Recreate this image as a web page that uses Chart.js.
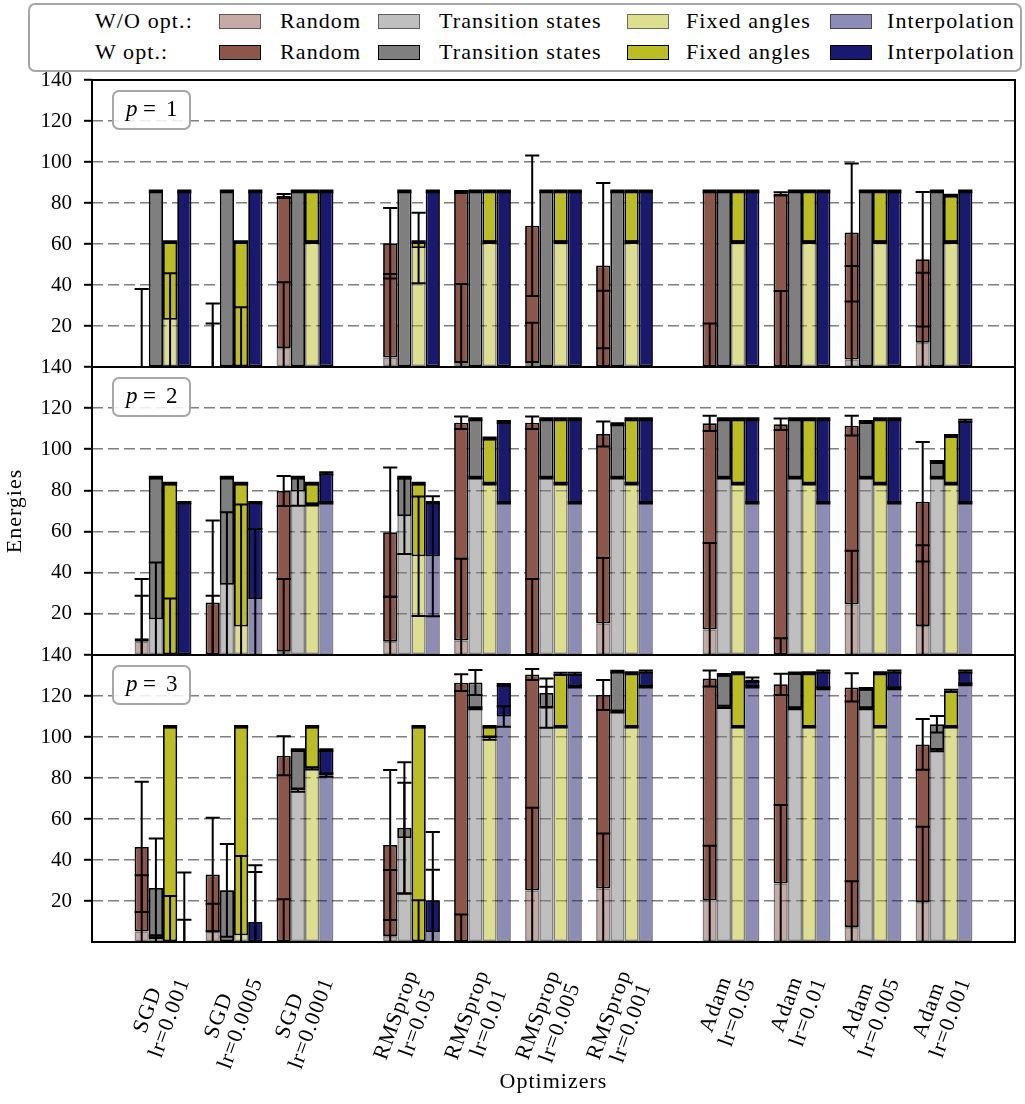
<!DOCTYPE html>
<html>
<head>
<meta charset="utf-8">
<script src="https://cdn.jsdelivr.net/npm/chart.js@4.4.1/dist/chart.umd.min.js"></script>
<style>
  html, body { margin: 0; padding: 0; background: #fff; }
  #fig { position: relative; width: 1025px; height: 1104px; overflow: hidden;
         font-family: "Liberation Serif", serif; color: #000; }
  #fig canvas { position: absolute; left: 0; top: 0; }
  #legend { position: absolute; left: 28px; top: 3px; width: 990px; height: 65px;
            border: 2px solid #a6a6a6; border-radius: 7px; background: #fff; z-index: 5; }
  .lg { position: absolute; font-size: 22px; line-height: 22px; letter-spacing: 1.1px;
        white-space: nowrap; z-index: 6; }
  .sw { position: absolute; width: 42px; height: 15px; box-sizing: border-box; z-index: 6; }
</style>
</head>
<body>
<div id="fig">
  <canvas id="c1" width="1025" height="1104"></canvas>
  <canvas id="c2" width="1025" height="1104"></canvas>
  <canvas id="c3" width="1025" height="1104"></canvas>
  <div id="legend"></div>
</div>
<script>
// ---- optimizer groups along the x axis ----
const groupLabels = [
  ["SGD", "lr=0.001"], ["SGD", "lr=0.0005"], ["SGD", "lr=0.0001"],
  ["RMSprop", "lr=0.05"], ["RMSprop", "lr=0.01"], ["RMSprop", "lr=0.005"], ["RMSprop", "lr=0.001"],
  ["Adam", "lr=0.05"], ["Adam", "lr=0.01"], ["Adam", "lr=0.005"], ["Adam", "lr=0.001"]
];
const groupPositions = [0, 1, 2, 3.5, 4.5, 5.5, 6.5, 8, 9, 10, 11];
const methods = ["Random", "Transition states", "Fixed angles", "Interpolation"];
const yTickValues = [20, 40, 60, 80, 100, 120, 140];
const panelNames = ["1", "2", "3"];

// ---- p = 1 : energies without (WO) / with (W) optimization, and their spreads ----
const p1RandomWO    = [0, 0, 9.3, 4.6, 2.0, 2.0, 0, 0, 0, 3.6, 11.8];
const p1RandomWOErr = [0, 21.2, 32.0, 40.8, 38.5, 19.6, 37.2, 21.2, 37.1, 45.7, 34.2];
const p1RandomW     = [0, 0, 83.4, 60.4, 85.4, 68.9, 49.5, 85.7, 84.5, 65.6, 52.6];
const p1RandomWErr  = [38.0, 31.0, 1.0, 17.2, 0.5, 34.3, 40.3, 0.4, 0.8, 33.7, 32.8];

const p1TransWO     = [0, 0, 0, 0, 0, 0, 0, 0, 0, 0, 0];
const p1TransWOErr  = [0, 0, 0, 0, 0, 0, 0, 0, 0, 0, 0];
const p1TransW      = [85.7, 85.7, 85.7, 85.7, 85.7, 85.7, 85.7, 85.7, 85.7, 85.7, 85.7];
const p1TransWErr   = [0.4, 0.4, 0.4, 0.4, 0.4, 0.4, 0.4, 0.4, 0.4, 0.4, 0.4];

const p1FixedWO     = [60.9, 60.9, 60.9, 60.9, 60.9, 60.9, 60.9, 60.9, 60.9, 60.9, 60.9];
const p1FixedWOErr  = [0.4, 0.4, 0.4, 0.4, 0.4, 0.4, 0.4, 0.4, 0.4, 0.4, 0.4];
const p1FixedW      = [23.0, 0, 85.7, 58.0, 85.7, 85.7, 85.7, 85.7, 85.7, 85.7, 83.6];
const p1FixedWErr   = [22.7, 29.1, 0.4, 17.2, 0.4, 0.4, 0.4, 0.4, 0.4, 0.4, 0.4];

const p1InterpWO    = [0, 0, 0, 0, 0, 0, 0, 0, 0, 0, 0];
const p1InterpWOErr = [0, 0, 0, 0, 0, 0, 0, 0, 0, 0, 0];
const p1InterpW     = [85.7, 85.7, 85.7, 85.7, 85.7, 85.7, 85.7, 85.7, 85.7, 85.7, 85.7];
const p1InterpWErr  = [0.4, 0.4, 0.4, 0.4, 0.4, 0.4, 0.4, 0.4, 0.4, 0.4, 0.4];

// ---- p = 2 ----
const p2RandomWO    = [6.5, 0, 1.6, 6.5, 7.0, 0, 15.4, 12.5, 0, 24.7, 14.1];
const p2RandomWOErr = [22.3, 28.8, 35.3, 21.8, 39.8, 36.9, 31.8, 42.0, 8.1, 26.0, 39.2];
const p2RandomW     = [8.1, 25.5, 79.7, 59.7, 112.9, 112.9, 107.4, 112.6, 112.2, 111.5, 74.5];
const p2RandomWErr  = [28.8, 39.9, 7.3, 31.4, 3.0, 3.0, 6.1, 3.7, 2.8, 4.8, 29.0];

const p2TransWO     = [86.2, 86.2, 86.2, 86.2, 86.2, 86.2, 86.2, 86.2, 86.2, 86.2, 86.2];
const p2TransWOErr  = [0.4, 0.4, 0.4, 0.4, 0.4, 0.4, 0.4, 0.4, 0.4, 0.4, 0.4];
const p2TransW      = [17.4, 34.1, 79.5, 67.5, 114.6, 114.6, 112.2, 114.6, 114.6, 113.3, 93.8];
const p2TransWErr   = [27.6, 35.3, 7.0, 18.4, 0.5, 0.5, 0.5, 0.5, 0.5, 0.5, 0.5];

const p2FixedWO     = [83.3, 83.3, 83.3, 83.3, 83.3, 83.3, 83.3, 83.3, 83.3, 83.3, 83.3];
const p2FixedWOErr  = [0.4, 0.4, 0.4, 0.4, 0.4, 0.4, 0.4, 0.4, 0.4, 0.4, 0.4];
const p2FixedW      = [0, 13.8, 73.2, 48.0, 105.2, 114.6, 114.6, 114.6, 114.6, 114.6, 106.5];
const p2FixedWErr   = [27.5, 59.4, 0.5, 29.0, 0.5, 0.5, 0.5, 0.5, 0.5, 0.5, 0.5];

const p2InterpWO    = [74.0, 74.0, 74.0, 74.0, 74.0, 74.0, 74.0, 74.0, 74.0, 74.0, 74.0];
const p2InterpWOErr = [0.4, 0.4, 0.4, 0.4, 0.4, 0.4, 0.4, 0.4, 0.4, 0.4, 0.4];
const p2InterpW     = [0, 27.2, 88.3, 48.0, 113.3, 114.6, 114.6, 114.6, 114.6, 114.6, 113.8];
const p2InterpWErr  = [0, 34.1, 0.5, 29.2, 0.5, 0.5, 0.5, 0.5, 0.5, 0.5, 0.5];

// ---- p = 3 ----
const p3RandomWO    = [5.2, 4.9, 0, 2.9, 0, 25.2, 26.1, 20.4, 28.5, 7.3, 19.5];
const p3RandomWOErr = [27.4, 13.8, 20.8, 32.2, 13.4, 40.3, 26.8, 26.5, 38.3, 22.3, 36.7];
const p3RandomW     = [46.4, 32.9, 90.9, 47.3, 126.5, 130.5, 120.5, 128.5, 125.7, 124.2, 96.4];
const p3RandomWErr  = [31.8, 27.7, 9.5, 36.6, 4.1, 2.7, 7.3, 3.9, 5.2, 6.9, 12.4];

const p3TransWO     = [26.4, 25.2, 93.6, 55.7, 114.0, 114.5, 112.4, 114.7, 114.0, 114.0, 93.6];
const p3TransWOErr  = [24.1, 22.6, 0.4, 32.0, 0.5, 10.0, 0.5, 0.5, 0.5, 0.5, 0.5];
const p3TransW      = [1.3, 0.3, 74.1, 50.7, 126.6, 121.5, 131.9, 130.3, 131.1, 123.5, 106.2];
const p3TransWErr   = [2.0, 0, 0.8, 27.0, 6.1, 7.0, 0.4, 0.4, 0.4, 0.4, 4.0];

const p3FixedWO     = [105.0, 105.0, 105.0, 105.0, 105.0, 105.0, 105.0, 105.0, 105.0, 105.0, 105.0];
const p3FixedWOErr  = [0.4, 0.4, 0.4, 0.4, 0.4, 0.4, 0.4, 0.4, 0.4, 0.4, 0.4];
const p3FixedW      = [0, 3.3, 84.7, 0, 99.5, 130.8, 131.1, 131.1, 131.1, 131.1, 122.5];
const p3FixedWErr   = [22.5, 38.6, 0.5, 20.4, 0.8, 0.5, 0.5, 0.5, 0.5, 0.5, 0.5];

const p3InterpWO    = [0, 9.8, 93.6, 20.4, 125.4, 124.6, 124.6, 124.6, 123.8, 123.8, 125.7];
const p3InterpWOErr = [33.9, 27.7, 0.4, 33.3, 0.5, 0.5, 0.5, 0.5, 0.5, 0.5, 0.5];
const p3InterpW     = [0, 0, 81.4, 4.9, 110.0, 130.8, 131.9, 128.0, 131.9, 131.9, 131.9];
const p3InterpWErr  = [10.9, 34.2, 0.8, 30.4, 5.0, 0.5, 0.5, 1.0, 0.5, 0.5, 0.5];

// ---- styling ----
const FONT = '"Liberation Serif", "Times New Roman", serif';
const darkColors  = ["#8c564b", "#7f7f7f", "#bcbd22", "#191970"];
const lightColors = ["rgba(140,86,75,0.5)", "rgba(127,127,127,0.5)", "rgba(188,189,34,0.5)", "rgba(25,25,112,0.5)"];
const lightEdge = "rgba(0,0,0,0.5)";

const panels = [
  { name: panelNames[0], top: 80,  bottom: 367,
    series: [[p1RandomWO, p1RandomWOErr, p1RandomW, p1RandomWErr],
             [p1TransWO, p1TransWOErr, p1TransW, p1TransWErr],
             [p1FixedWO, p1FixedWOErr, p1FixedW, p1FixedWErr],
             [p1InterpWO, p1InterpWOErr, p1InterpW, p1InterpWErr]] },
  { name: panelNames[1], top: 367, bottom: 655,
    series: [[p2RandomWO, p2RandomWOErr, p2RandomW, p2RandomWErr],
             [p2TransWO, p2TransWOErr, p2TransW, p2TransWErr],
             [p2FixedWO, p2FixedWOErr, p2FixedW, p2FixedWErr],
             [p2InterpWO, p2InterpWOErr, p2InterpW, p2InterpWErr]] },
  { name: panelNames[2], top: 655, bottom: 942,
    series: [[p3RandomWO, p3RandomWOErr, p3RandomW, p3RandomWErr],
             [p3TransWO, p3TransWOErr, p3TransW, p3TransWErr],
             [p3FixedWO, p3FixedWOErr, p3FixedW, p3FixedWErr],
             [p3InterpWO, p3InterpWOErr, p3InterpW, p3InterpWErr]] }
];

// Optimized bars float from the un-optimized value to the optimized one;
// un-optimized bars rise from zero and sit underneath.
function buildDatasets(series) {
  const sets = [];
  methods.forEach((m, j) => {
    const [wo, , w, wErr] = series[j];
    sets.push({
      label: m + " (W opt.)", stack: m, order: 0,
      data: groupPositions.map((x, i) => ({ x, y: [wo[i], w[i]] })),
      errors: wErr,
      backgroundColor: darkColors[j], borderColor: "#000", borderWidth: 1.8,
      borderSkipped: false
    });
  });
  methods.forEach((m, j) => {
    const [wo, woErr] = series[j];
    sets.push({
      label: m + " (W/O opt.)", stack: m, order: 1,
      data: groupPositions.map((x, i) => ({ x, y: [0, wo[i]] })),
      errors: woErr,
      backgroundColor: lightColors[j], borderColor: lightEdge, borderWidth: 1.6,
      borderSkipped: false
    });
  });
  return sets;
}

// Error bars, axes frame and the panel tag
const panelDecor = {
  id: "panelDecor",
  afterDatasetsDraw(chart, args, opts) {
    const { ctx, chartArea: a } = chart;
    const y = chart.scales.y;
    ctx.save();
    ctx.beginPath();
    ctx.rect(a.left, a.top, a.right - a.left, a.bottom - a.top);
    ctx.clip();
    ctx.strokeStyle = "#000";
    ctx.lineWidth = 2;
    chart.data.datasets.forEach((ds, di) => {
      const meta = chart.getDatasetMeta(di);
      meta.data.forEach((el, i) => {
        const v = ds.data[i].y[1];
        const e = ds.errors[i];
        const yHi = y.getPixelForValue(v + e);
        const yLo = y.getPixelForValue(v - e);
        const half = el.width / 2;
        ctx.beginPath();
        ctx.moveTo(el.x, yHi); ctx.lineTo(el.x, yLo);
        ctx.moveTo(el.x - half, yHi); ctx.lineTo(el.x + half, yHi);
        ctx.moveTo(el.x - half, yLo); ctx.lineTo(el.x + half, yLo);
        ctx.stroke();
      });
    });
    ctx.restore();

    // frame
    ctx.save();
    ctx.strokeStyle = "#000";
    ctx.lineWidth = 2;
    ctx.strokeRect(a.left, a.top, a.right - a.left, a.bottom - a.top);
    ctx.restore();

    // "p = n" tag
    const bx = a.left + 21, by = a.top + 11, bw = 77, bh = 38;
    ctx.save();
    ctx.beginPath();
    ctx.roundRect(bx, by, bw, bh, 6);
    ctx.fillStyle = "rgba(255,255,255,0.85)";
    ctx.fill();
    ctx.lineWidth = 2;
    ctx.strokeStyle = "#a6a6a6";
    ctx.stroke();
    ctx.fillStyle = "#000";
    ctx.textBaseline = "alphabetic";
    ctx.textAlign = "left";
    ctx.font = "italic 23px " + FONT;
    ctx.fillText("p", bx + 13, by + 25);
    ctx.font = "23px " + FONT;
    ctx.fillText("=", bx + 30, by + 25);
    ctx.fillText(opts.name, bx + 53, by + 25);
    ctx.restore();

    if (opts.yTitle) {
      ctx.save();
      ctx.font = "22px " + FONT;
      ctx.letterSpacing = "1px";
      ctx.fillStyle = "#000";
      ctx.textAlign = "center";
      ctx.textBaseline = "middle";
      ctx.translate(15, (a.top + a.bottom) / 2);
      ctx.rotate(-Math.PI / 2);
      ctx.fillText(opts.yTitle, 0, 0);
      ctx.restore();
    }

    if (opts.xLabels) {
      const x = chart.scales.x;
      const ang = 70 * Math.PI / 180;
      const lh = 23;
      ctx.save();
      ctx.font = "22px " + FONT;
      ctx.letterSpacing = "1px";
      ctx.fillStyle = "#000";
      ctx.textAlign = "center";
      ctx.textBaseline = "middle";
      groupLabels.forEach((lines, i) => {
        const px = x.getPixelForValue(groupPositions[i]);
        const W = Math.max(...lines.map(l => ctx.measureText(l).width));
        const H = lines.length * lh;
        const boxH = W * Math.sin(ang) + H * Math.cos(ang);
        ctx.save();
        ctx.translate(px - 4, a.bottom + 25 + boxH / 2);
        ctx.rotate(-ang);
        lines.forEach((l, k) => ctx.fillText(l, 0, (k - (lines.length - 1) / 2) * lh));
        ctx.restore();
      });
      ctx.font = "22px " + FONT;
      ctx.fillText(opts.xTitle, (a.left + a.right) / 2, 1082);
      ctx.restore();
    }
  }
};

Chart.defaults.font.family = FONT;

panels.forEach((p, k) => {
  const canvas = document.getElementById("c" + (k + 1));
  new Chart(canvas, {
    type: "bar",
    data: { datasets: buildDatasets(p.series) },
    options: {
      responsive: false,
      animation: false,
      devicePixelRatio: 1,
      layout: { padding: { left: 0, right: 10, top: p.top, bottom: 1104 - p.bottom } },
      categoryPercentage: 0.8,
      barPercentage: 1.0,
      plugins: {
        legend: { display: false },
        tooltip: { enabled: false },
        panelDecor: {
          name: p.name,
          yTitle: k === 1 ? "Energies" : null,
          xLabels: k === 2,
          xTitle: "Optimizers"
        }
      },
      scales: {
        x: {
          type: "linear", min: -1, max: 12, offset: false,
          display: false,
          grid: { display: false, offset: false },
          afterBuildTicks: s => { s.ticks = groupPositions.map(v => ({ value: v })); }
        },
        y: {
          type: "linear", min: 0, max: 140, stacked: false,
          afterFit: s => { s.width = 92; },
          afterBuildTicks: s => { s.ticks = [0].concat(yTickValues).map(v => ({ value: v })); },
          border: { display: false, dash: [11, 5] },
          grid: {
            color: c => (c.tick && c.tick.value > 0 && c.tick.value < 140) ? "rgba(0,0,0,0.5)" : "rgba(0,0,0,0)",
            lineWidth: 1.6,
            drawTicks: true,
            tickLength: 8,
            tickWidth: 2,
            tickColor: c => (c.tick && c.tick.value > 0) ? "#000" : "rgba(0,0,0,0)"
          },
          ticks: {
            callback: v => (v === 0 ? "" : String(v)),
            font: { size: 21, family: FONT },
            color: "#000",
            padding: 12
          }
        }
      }
    },
    plugins: [panelDecor]
  });
});

// ---- legend ----
const fig = document.getElementById("fig");
function addText(txt, left, cy) {
  const d = document.createElement("div");
  d.className = "lg";
  d.textContent = txt;
  d.style.left = left + "px";
  d.style.top = (cy - 11) + "px";
  fig.appendChild(d);
}
function addSwatch(left, cy, fill, edge, bw) {
  const d = document.createElement("div");
  d.className = "sw";
  d.style.left = left + "px";
  d.style.top = (cy - 7.5) + "px";
  d.style.background = fill;
  d.style.border = bw + "px solid " + edge;
  fig.appendChild(d);
}
const legendRowY = [21, 52];
const legendSwatchX = [219, 378, 627, 830];
const legendTextX = [280, 439, 686, 887];
addText("W/O opt.:", 95, legendRowY[0]);
addText("W opt.:", 95, legendRowY[1]);
methods.forEach((m, j) => {
  addSwatch(legendSwatchX[j], legendRowY[0], lightColors[j], lightEdge, 1.5);
  addText(m, legendTextX[j], legendRowY[0]);
  addSwatch(legendSwatchX[j], legendRowY[1], darkColors[j], "#000", 1.5);
  addText(m, legendTextX[j], legendRowY[1]);
});
</script>
</body>
</html>
